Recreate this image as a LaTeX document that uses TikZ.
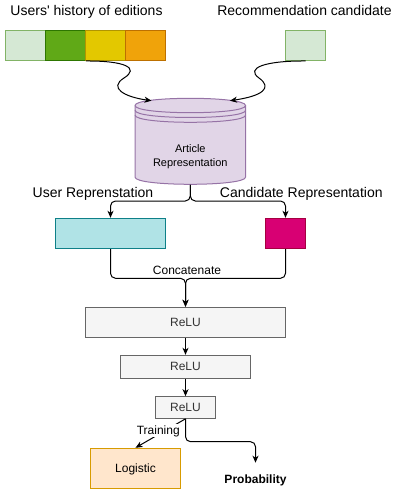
\documentclass[tikz,border=0pt]{standalone}
\usepackage{fontspec}
\setmainfont{Liberation Sans}[Ligatures=TeXOff]
\usetikzlibrary{arrows.meta}
\definecolor{lgF}{HTML}{D5E8D4}\definecolor{lgD}{HTML}{82B366}
\definecolor{gF}{HTML}{60A917}\definecolor{gD}{HTML}{2D7600}
\definecolor{yF}{HTML}{E3C800}\definecolor{yD}{HTML}{B09500}
\definecolor{oF}{HTML}{F0A30A}\definecolor{oD}{HTML}{BD7000}
\definecolor{pF}{HTML}{E1D5E7}\definecolor{pD}{HTML}{9673A6}
\definecolor{cyF}{HTML}{B0E3E6}\definecolor{cyD}{HTML}{0E8088}
\definecolor{mF}{HTML}{D80073}\definecolor{mD}{HTML}{A50040}
\definecolor{reF}{HTML}{F5F5F5}\definecolor{reD}{HTML}{666666}\definecolor{reT}{HTML}{333333}
\definecolor{lF}{HTML}{FFE6CC}\definecolor{lD}{HTML}{D79B00}
\begin{document}
\begin{tikzpicture}[x=1pt,y=-1pt,line width=1pt,
  box/.style={draw,inner sep=0pt,text depth=0pt},
  arr/.style={-{Stealth[length=7pt,width=6pt,inset=2pt]},line width=1pt},
  title/.style={font=\fontsize{14}{17}\selectfont,anchor=base,inner sep=0pt},
  lbl/.style={font=\fontsize{12}{14}\selectfont,anchor=base,inner sep=0pt},
  relu/.style={box,fill=reF,draw=reD,text=reT,font=\fontsize{12}{14}\selectfont}]
\useasboundingbox (0,0) rectangle (403,489);
% titles
\node[title] (t1) at (86.5,16) {Users' history of editions};
\node[title] (t2) at (304.5,16) {Recommendation candidate};
% history boxes
\node[box,fill=lgF,draw=lgD,minimum width=40pt,minimum height=30pt] (h1) at (25.3,45.5) {};
\node[box,fill=gF,draw=gD,minimum width=40pt,minimum height=30pt] (h2) at (65.3,45.5) {};
\node[box,fill=yF,draw=yD,minimum width=40pt,minimum height=30pt] (h3) at (105.3,45.5) {};
\node[box,fill=oF,draw=oD,minimum width=40pt,minimum height=30pt] (h4) at (145.3,45.5) {};
\node[box,fill=lgF,draw=lgD,minimum width=40pt,minimum height=30pt] (cand) at (305.5,45.5) {};
% cylinder
\node[inner sep=0pt,minimum width=110pt,minimum height=86pt] (art) at (190.3,141.3) {};
\draw[fill=pF,draw=pD] (135,105.5) -- (135,177.1) .. controls (135,186.7) and (245.6,186.7) .. (245.6,177.1)
  -- (245.6,105.5) .. controls (245.6,95.9) and (135,95.9) .. (135,105.5) -- cycle;
\draw[draw=pD] (135,105.5) .. controls (135,115.1) and (245.6,115.1) .. (245.6,105.5);
\draw[draw=pD] (135,110.3) .. controls (135,119.9) and (245.6,119.9) .. (245.6,110.3);
\draw[draw=pD] (135,115.1) .. controls (135,124.7) and (245.6,124.7) .. (245.6,115.1);
\node[font=\fontsize{11}{13}\selectfont,anchor=base,inner sep=0pt] (a1) at (190.3,152.7) {Article};
\node[font=\fontsize{11}{13}\selectfont,anchor=base,inner sep=0pt] (a2) at (190.3,166) {Representation};
\coordinate (artL) at (151.5,100.7);
\coordinate (artR) at (230,100.7);
% curved input arrows
\draw[arr] (h2.south east) .. controls (125,60.7) and (140,68) .. (124,78)
  .. controls (108,88) and (125,97) .. (artL);
\draw[arr] (cand.south) .. controls (265,60.7) and (245,68) .. (259,78)
  .. controls (273,88) and (262,96) .. (artR);
% representation boxes
\node[box,fill=cyF,draw=cyD,minimum width=110.4pt,minimum height=30.4pt] (ur) at (110.5,233.5) {};
\node[box,fill=mF,draw=mD,minimum width=40pt,minimum height=30.4pt] (cr) at (285.5,233.5) {};
\node[title] (l1) at (93,197.3) {User Reprenstation};
\node[title] (l2) at (301.3,197.3) {Candidate Representation};
\coordinate (brY) at (0,201);
\draw[arr,rounded corners=5pt] (art.south) -- (art.south |- brY) -- (ur.north |- brY) -- (ur.north);
\draw[arr,rounded corners=5pt] (art.south) -- (art.south |- brY) -- (cr.north |- brY) -- (cr.north);
% relu stack
\node[relu,minimum width=200pt,minimum height=30pt] (r1) at (185.5,322.3) {ReLU};
\node[relu,minimum width=130pt,minimum height=23pt] (r2) at (185.5,366.8) {ReLU};
\node[relu,minimum width=60pt,minimum height=21.6pt] (r3) at (185.5,407.5) {ReLU};
\coordinate (cY) at (0,278.3);
\draw[arr,rounded corners=5pt] (ur.south) -- (ur.south |- cY) -- (r1.north |- cY) -- (r1.north);
\draw[arr,rounded corners=5pt] (cr.south) -- (cr.south |- cY) -- (r1.north |- cY) -- (r1.north);
\node[lbl] (cc) at (187,274) {Concatenate};
\draw[arr] (r1.south) -- (r2.north);
\draw[arr] (r2.south) -- (r3.north);
% outputs
\node[box,fill=lF,draw=lD,minimum width=90pt,minimum height=40pt,font=\fontsize{12}{14}\selectfont] (lg) at (135.5,468.3) {Logistic};
\draw[arr] (r3.south) -- (lg.north);
\node[lbl,fill=white,inner sep=1pt] (tr) at (158.3,434) {Training};
\node[lbl,font=\fontsize{12}{14}\selectfont\bfseries] (pr) at (255.5,483.3) {Probability};
\coordinate (pa) at (255.5,462.7);
\coordinate (pY) at (0,441.7);
\draw[arr,rounded corners=5pt] (r3.south) -- (r3.south |- pY) -- (pa |- pY) -- (pa);
\end{tikzpicture}
\end{document}
